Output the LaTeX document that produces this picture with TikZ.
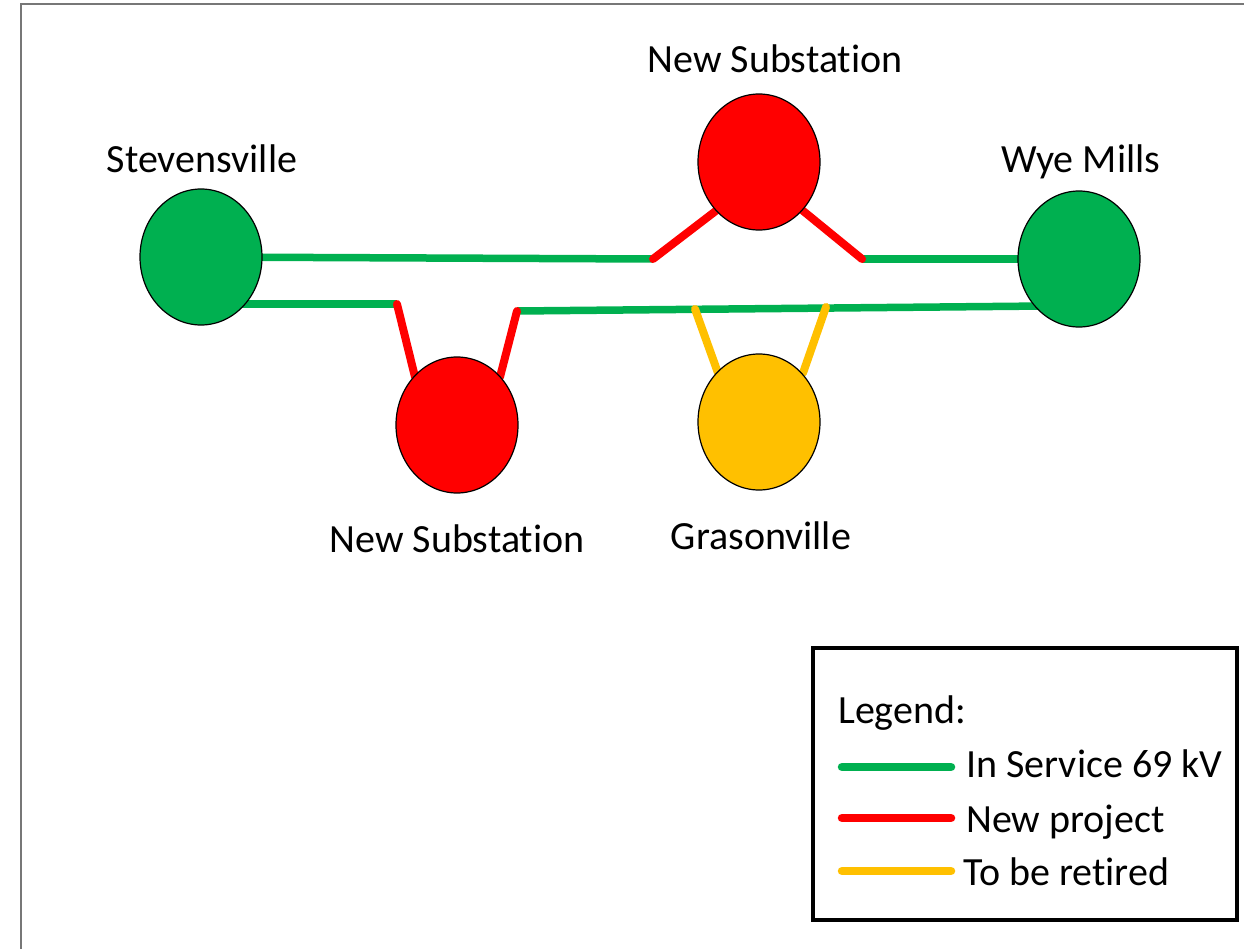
\documentclass[tikz,border=0pt]{standalone}
\usepackage{fontspec}
\setmainfont{Carlito}[Ligatures=NoCommon]
\usetikzlibrary{shapes.geometric}
\pgfdeclarelayer{bg}\pgfsetlayers{bg,main}
\definecolor{ingreen}{HTML}{00B050}
\definecolor{newred}{HTML}{FF0000}
\definecolor{retyellow}{HTML}{FFC000}
\definecolor{framegray}{HTML}{777777}
\tikzset{
  station/.style={ellipse, draw=black, line width=1.2bp, minimum width=122bp, minimum height=136bp, inner sep=0},
  lbl/.style={font=\fontsize{40bp}{48bp}\selectfont, inner sep=0, anchor=base},
  legtxt/.style={font=\fontsize{40bp}{48bp}\selectfont, inner sep=0, anchor=base west},
  gline/.style={draw=ingreen, line width=7.5bp},
  rline/.style={draw=newred, line width=8bp, line cap=round},
  yline/.style={draw=retyellow, line width=8bp, line cap=round},
  legline/.style={line width=8.5bp, line cap=round}
}
\begin{document}
\begin{tikzpicture}[x=1bp,y=-1bp]
\useasboundingbox (0,0) rectangle (1244,949);
\draw[framegray, line width=2bp] (20.5,949) -- (20.5,4) -- (1244,4);

% stations
\node[station, fill=ingreen] (stev) at (201,257) {};
\node[station, fill=ingreen] (wye) at (1079,259) {};
\node[station, fill=newred] (nstop) at (759,162) {};
\node[station, fill=newred] (nsbot) at (457,425) {};
\node[station, fill=retyellow] (gras) at (759,422) {};

% labels
\node[lbl] (lstev) at (202,172) {Stevensville};
\node[lbl] (lwye) at (1081,172) {Wye Mills};
\node[lbl] (lnstop) at (775,72) {New Substation};
\node[lbl] (lnsbot) at (457,552) {New Substation};
\node[lbl] (lgras) at (761,549) {Grasonville};

% junction coordinates
\coordinate (s2) at (225,304);
\coordinate (a1) at (653,259);
\coordinate (a2) at (717,210);
\coordinate (a3) at (802,210);
\coordinate (a4) at (862,259);
\coordinate (b1) at (397,304);
\coordinate (b2) at (415,377);
\coordinate (b3) at (500,377);
\coordinate (b4) at (517,311);
\coordinate (w2) at (1045,306);
\coordinate (g1) at (695,309);
\coordinate (g2) at (718,373);
\coordinate (g3) at (803,373);
\coordinate (g4) at (826,307);

\begin{pgfonlayer}{bg}
\draw[gline] (stev.center) -- (a1);
\draw[gline] (a4) -- (wye.center);
\draw[gline] (s2) -- (b1);
\draw[gline] (b4) -- (w2);
\draw[rline] (a1) -- (a2);
\draw[rline] (a3) -- (a4);
\draw[rline] (b1) -- (b2);
\draw[rline] (b3) -- (b4);
\draw[yline] (g1) -- (g2);
\draw[yline] (g3) -- (g4);
\end{pgfonlayer}

% legend
\node[draw=black, line width=4bp, minimum width=424bp, minimum height=272bp, inner sep=0] (legbox) at (1025,784) {};
\node[legtxt] (legtitle) at (838,723) {Legend:};
\coordinate (lg1) at (842,767); \coordinate (lg2) at (951,767);
\coordinate (lr1) at (842,818); \coordinate (lr2) at (951,818);
\coordinate (ly1) at (842,871); \coordinate (ly2) at (951,871);
\draw[legline, ingreen] (lg1) -- (lg2);
\draw[legline, newred] (lr1) -- (lr2);
\draw[legline, retyellow] (ly1) -- (ly2);
\node[legtxt] (lt1) at (966,777) {In Service 69 kV};
\node[legtxt] (lt2) at (966,832) {New project};
\node[legtxt] (lt3) at (963,885) {To be retired};
\end{tikzpicture}
\end{document}
